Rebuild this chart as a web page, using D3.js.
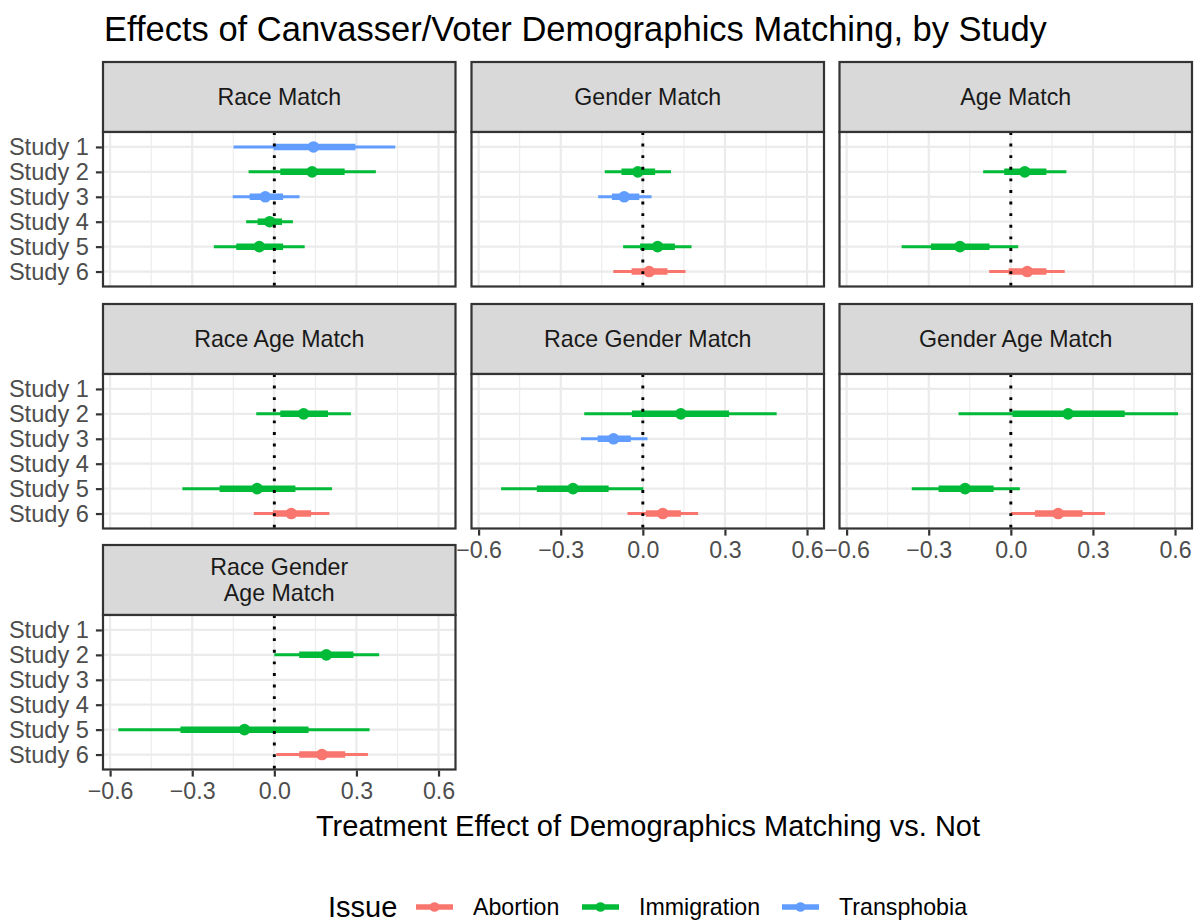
<!DOCTYPE html>
<html>
<head>
<meta charset="utf-8">
<script src="https://cdn.jsdelivr.net/npm/d3@7"></script>
<style>
  body { margin: 0; background: #fff; }
  svg { font-family: "Liberation Sans", Arial, Helvetica, sans-serif; }
</style>
</head>
<body>
<svg id="chart" width="1196" height="922"></svg>
<script>
// categories
let studies = ['Study 1', 'Study 2', 'Study 3', 'Study 4', 'Study 5', 'Study 6']
let issues = ['Abortion', 'Immigration', 'Transphobia']
let issueColors = ['#F8766D', '#00BA38', '#619CFF']
let xTicks = [-0.6, -0.3, 0.0, 0.3, 0.6]
let xMinorTicks = [-0.45, -0.15, 0.15, 0.45]
let xLimits = [-0.626, 0.662]

// each row: [study, issue, estimate, innerLow, innerHigh, outerLow, outerHigh]
let raceMatch = [
  ['Study 1', 'Transphobia', 0.143, -0.003, 0.296, -0.149, 0.442],
  ['Study 2', 'Immigration', 0.138, 0.022, 0.257, -0.094, 0.371],
  ['Study 3', 'Transphobia', -0.033, -0.090, 0.032, -0.152, 0.092],
  ['Study 4', 'Immigration', -0.017, -0.061, 0.028, -0.103, 0.068],
  ['Study 5', 'Immigration', -0.055, -0.139, 0.032, -0.221, 0.111]
]
let genderMatch = [
  ['Study 2', 'Immigration', -0.018, -0.078, 0.045, -0.139, 0.103],
  ['Study 3', 'Transphobia', -0.068, -0.113, -0.013, -0.163, 0.032],
  ['Study 5', 'Immigration', 0.054, -0.010, 0.117, -0.072, 0.178],
  ['Study 6', 'Abortion', 0.023, -0.041, 0.090, -0.108, 0.156]
]
let ageMatch = [
  ['Study 2', 'Immigration', 0.051, -0.024, 0.130, -0.101, 0.203],
  ['Study 5', 'Immigration', -0.186, -0.292, -0.078, -0.399, 0.027],
  ['Study 6', 'Abortion', 0.060, -0.008, 0.130, -0.079, 0.197]
]
let raceAgeMatch = [
  ['Study 2', 'Immigration', 0.107, 0.022, 0.196, -0.066, 0.280],
  ['Study 5', 'Immigration', -0.063, -0.200, 0.077, -0.336, 0.211],
  ['Study 6', 'Abortion', 0.062, -0.005, 0.134, -0.075, 0.201]
]
let raceGenderMatch = [
  ['Study 2', 'Immigration', 0.139, -0.040, 0.315, -0.214, 0.489],
  ['Study 3', 'Transphobia', -0.107, -0.165, -0.044, -0.226, 0.017],
  ['Study 5', 'Immigration', -0.255, -0.387, -0.125, -0.518, 0.002],
  ['Study 6', 'Abortion', 0.073, 0.011, 0.139, -0.056, 0.202]
]
let genderAgeMatch = [
  ['Study 2', 'Immigration', 0.209, 0.006, 0.416, -0.191, 0.611],
  ['Study 5', 'Immigration', -0.167, -0.264, -0.063, -0.362, 0.033],
  ['Study 6', 'Abortion', 0.173, 0.088, 0.262, 0.000, 0.344]
]
let raceGenderAgeMatch = [
  ['Study 2', 'Immigration', 0.190, 0.091, 0.289, 0.000, 0.383],
  ['Study 5', 'Immigration', -0.109, -0.343, 0.125, -0.570, 0.348],
  ['Study 6', 'Abortion', 0.174, 0.091, 0.259, 0.007, 0.342]
]

let panels = [
  { title: ['Race Match'], rows: raceMatch },
  { title: ['Gender Match'], rows: genderMatch },
  { title: ['Age Match'], rows: ageMatch },
  { title: ['Race Age Match'], rows: raceAgeMatch },
  { title: ['Race Gender Match'], rows: raceGenderMatch },
  { title: ['Gender Age Match'], rows: genderAgeMatch },
  { title: ['Race Gender', 'Age Match'], rows: raceGenderAgeMatch }
]

// layout
let colLeft = [103, 471.5, 839.5]
let panelW = 352.5
let stripTop = [62, 304, 545]
let stripH = 70
let panelH = 154.5
let dark = '#333333'
let textGrey = '#4D4D4D'

let svg = d3.select('#chart')
let color = d3.scaleOrdinal().domain(issues).range(issueColors)

svg.append('text')
   .attr('x', 104)
   .attr('y', 41)
   .attr('font-size', 34.5)
   .attr('fill', '#000')
   .text('Effects of Canvasser/Voter Demographics Matching, by Study')

let drawPanel = (p, i) => {
  let col = i % 3
  let row = Math.floor(i / 3)
  let left = colLeft[col]
  let top = stripTop[row] + stripH

  let x = d3.scaleLinear().domain(xLimits).range([left, left + panelW])
  let y = d3.scalePoint().domain(studies).range([top, top + panelH]).padding(0.6)

  let g = svg.append('g')

  // strip
  g.append('rect')
   .attr('x', left).attr('y', stripTop[row])
   .attr('width', panelW).attr('height', stripH)
   .attr('fill', '#D9D9D9').attr('stroke', dark).attr('stroke-width', 2.2)
  let st = g.append('text')
            .attr('x', left + panelW / 2)
            .attr('text-anchor', 'middle')
            .attr('font-size', 23.2)
            .attr('fill', '#1A1A1A')
  p.title.forEach((line, k) => {
    let cy = stripTop[row] + stripH / 2 + (k - (p.title.length - 1) / 2) * 25.5
    st.append('tspan').attr('x', left + panelW / 2).attr('y', cy).attr('dy', '0.35em').text(line)
  })

  // background grid
  g.append('rect')
   .attr('x', left).attr('y', top).attr('width', panelW).attr('height', panelH)
   .attr('fill', '#fff')
  g.selectAll('.minor')
   .data(xMinorTicks).enter().append('line')
   .attr('x1', d => x(d)).attr('x2', d => x(d))
   .attr('y1', top).attr('y2', top + panelH)
   .attr('stroke', '#EBEBEB').attr('stroke-width', 1.1)
  g.selectAll('.major')
   .data(xTicks).enter().append('line')
   .attr('x1', d => x(d)).attr('x2', d => x(d))
   .attr('y1', top).attr('y2', top + panelH)
   .attr('stroke', '#EBEBEB').attr('stroke-width', 2.2)
  g.selectAll('.hgrid')
   .data(studies).enter().append('line')
   .attr('x1', left).attr('x2', left + panelW)
   .attr('y1', d => y(d)).attr('y2', d => y(d))
   .attr('stroke', '#EBEBEB').attr('stroke-width', 2.2)

  // intervals and points
  let marks = g.selectAll('.mark').data(p.rows).enter().append('g')
  marks.append('line')
       .attr('x1', d => x(d[5])).attr('x2', d => x(d[6]))
       .attr('y1', d => y(d[0])).attr('y2', d => y(d[0]))
       .attr('stroke', d => color(d[1])).attr('stroke-width', 3)
  marks.append('line')
       .attr('x1', d => x(d[3])).attr('x2', d => x(d[4]))
       .attr('y1', d => y(d[0])).attr('y2', d => y(d[0]))
       .attr('stroke', d => color(d[1])).attr('stroke-width', 6.5)
  marks.append('circle')
       .attr('cx', d => x(d[2])).attr('cy', d => y(d[0]))
       .attr('r', 5.8)
       .attr('fill', d => color(d[1]))

  // zero reference line
  g.append('line')
   .attr('x1', x(0)).attr('x2', x(0))
   .attr('y1', top).attr('y2', top + panelH)
   .attr('stroke', '#000').attr('stroke-width', 2.9)
   .attr('stroke-dasharray', '2.9,8.7')

  g.append('rect')
   .attr('x', left).attr('y', top).attr('width', panelW).attr('height', panelH)
   .attr('fill', 'none').attr('stroke', dark).attr('stroke-width', 2.2)

  // y axis on first column
  if (col === 0) {
    let ya = g.append('g')
              .attr('transform', 'translate(' + (left - 1.1) + ',0)')
              .call(d3.axisLeft(y).tickSize(6).tickPadding(7))
    ya.select('.domain').remove()
    ya.selectAll('line').attr('stroke', dark).attr('stroke-width', 2.2)
    ya.selectAll('text').attr('font-size', 23.6).attr('fill', textGrey)
      .attr('font-family', '"Liberation Sans", Arial, sans-serif')
  }

  // x axis on panels with nothing underneath
  if (i >= 4) {
    let xa = g.append('g')
              .attr('transform', 'translate(0,' + (top + panelH + 1.1) + ')')
              .call(d3.axisBottom(x).tickValues(xTicks).tickSize(6).tickPadding(6)
                      .tickFormat(d => d3.format('.1f')(d).replace('-', '\u2212')))
    xa.select('.domain').remove()
    xa.selectAll('line').attr('stroke', dark).attr('stroke-width', 2.2)
    xa.selectAll('text').attr('font-size', 23.2).attr('fill', textGrey)
      .attr('font-family', '"Liberation Sans", Arial, sans-serif')
  }
}

panels.forEach(drawPanel)

// x axis title
svg.append('text')
   .attr('x', 648)
   .attr('y', 836)
   .attr('text-anchor', 'middle')
   .attr('font-size', 29)
   .attr('fill', '#000')
   .text('Treatment Effect of Demographics Matching vs. Not')

// legend
let legendY = 907
svg.append('text')
   .attr('x', 328).attr('y', legendY).attr('dy', '0.35em')
   .attr('font-size', 29).attr('fill', '#000')
   .text('Issue')

let keyX = [416, 582, 782]
let legend = svg.selectAll('.legend').data(issues).enter().append('g')
legend.append('line')
      .attr('x1', (d, i) => keyX[i]).attr('x2', (d, i) => keyX[i] + 37)
      .attr('y1', legendY).attr('y2', legendY)
      .attr('stroke', d => color(d)).attr('stroke-width', 5.5)
legend.append('circle')
      .attr('cx', (d, i) => keyX[i] + 18.5).attr('cy', legendY)
      .attr('r', 4.8).attr('fill', d => color(d))
legend.append('text')
      .attr('x', (d, i) => keyX[i] + 57).attr('y', legendY).attr('dy', '0.35em')
      .attr('font-size', 23.2).attr('fill', '#000')
      .text(d => d)
</script>
</body>
</html>
